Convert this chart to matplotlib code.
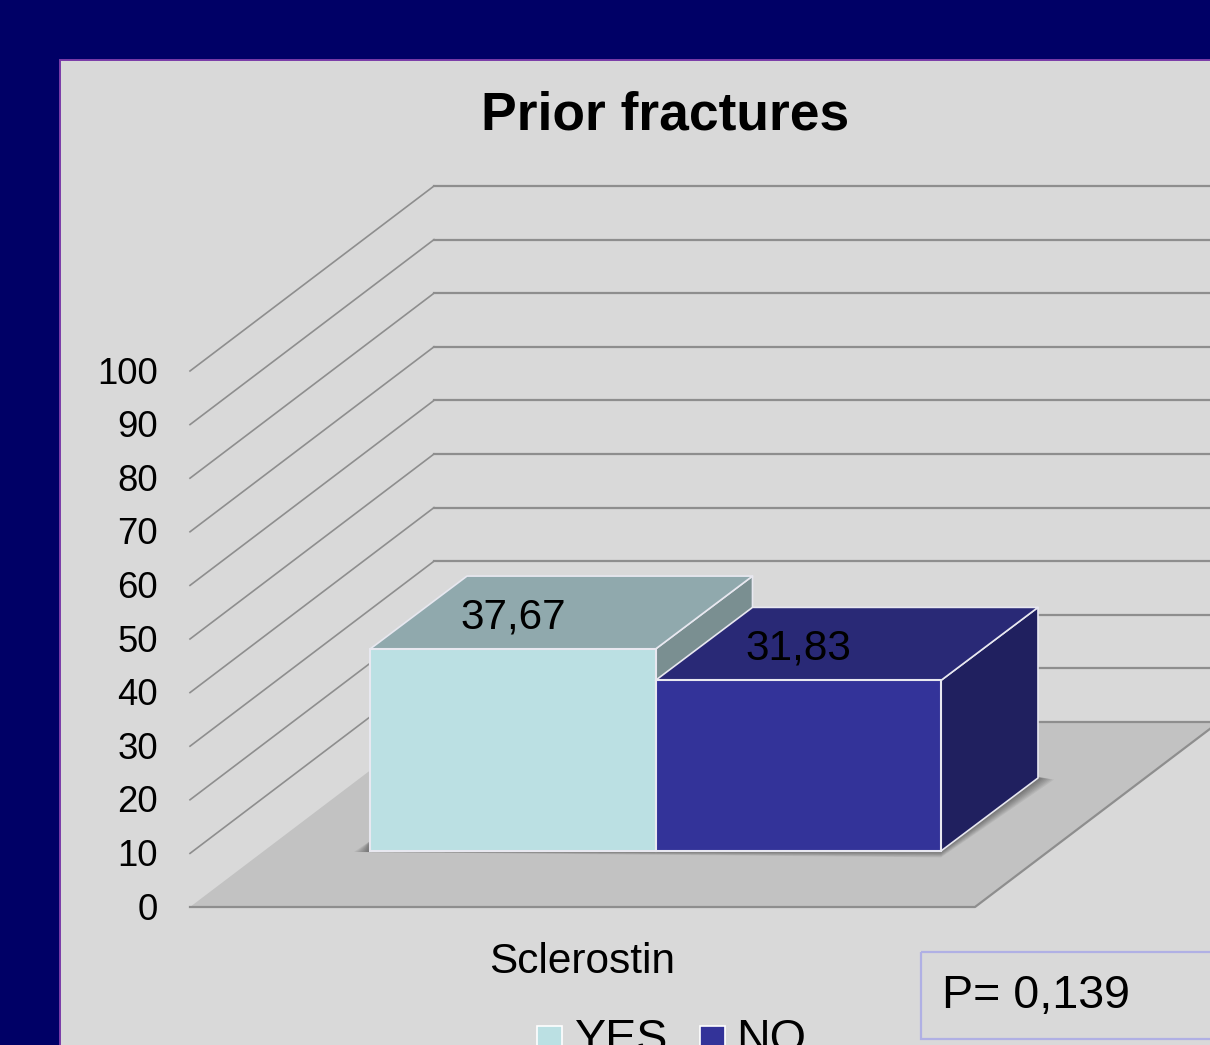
import matplotlib
matplotlib.use('Agg')
import matplotlib.pyplot as plt
from matplotlib.patches import Polygon, Rectangle

plt.rcParams['font.family'] = ['Liberation Sans', 'DejaVu Sans']

# data
title = 'Prior fractures'
category = 'Sclerostin'
series_names = ['YES', 'NO']
series_values = [37.67, 31.83]
value_labels = ['37,67', '31,83']
y_ticks = [0, 10, 20, 30, 40, 50, 60, 70, 80, 90, 100]
p_text = 'P= 0,139'

front_colors = ['#BBE0E3', '#333399']
top_colors = ['#90A9AD', '#292976']
side_colors = ['#7A8F91', '#20205F']

# pixel geometry of the fake 3d chart
y0 = 907
px_per_unit = 5.36
x_left = 190
x_right = 975
depth_x, depth_y = 244, -185
bar_left = 370
bar_width = 285.5
bar_base = 851
bar_dx, bar_dy = 97, -73
grid_c = '#8E8E8E'
edge_c = '#E8E8F0'

fig = plt.figure(figsize=(12.1, 10.45), dpi=100, facecolor='#000066')
ax = fig.add_axes([0, 0, 1, 1])
ax.set_xlim(0, 1210)
ax.set_ylim(1045, 0)
ax.axis('off')


def val_y(v):
    return y0 - v * px_per_unit


ax.add_patch(Rectangle((60, 60), 1200, 1100, fc='#D9D9D9', ec='#7A3BA8', lw=1.4, zorder=1))

# floor
floor = [(x_left, y0), (x_right, y0), (x_right + depth_x, y0 + depth_y), (x_left + depth_x, y0 + depth_y)]
ax.add_patch(Polygon(floor, fc='#C2C2C2', ec='none', zorder=2))
ax.plot([x_left, x_right, x_right + depth_x], [y0, y0, y0 + depth_y], c=grid_c, lw=1.6, zorder=3)

# walls
for v in y_ticks:
    y = val_y(v)
    if v > 0:
        ax.plot([x_left, x_left + depth_x], [y, y + depth_y], c=grid_c, lw=1.2, zorder=3)
    ax.plot([x_left + depth_x, 1260], [y + depth_y, y + depth_y], c=grid_c, lw=1.6, zorder=3)
    ax.text(158, y + 3, str(v), ha='right', va='center', fontsize=26.3, color='black', zorder=8)

# soft shadow under the bars
x_end = bar_left + bar_width * len(series_values)
for i in range(8):
    s = 2 + i * 2
    shadow = [(bar_left - s, bar_base + 1), (x_end, bar_base + s * 0.4),
              (x_end + bar_dx + s, bar_base + bar_dy + s * 0.1), (x_end + bar_dx - 20, bar_base + bar_dy - 5),
              (bar_left, bar_base - 10)]
    ax.add_patch(Polygon(shadow, fc='black', ec='none', alpha=0.06, zorder=4))

# bars
for i, v in enumerate(series_values):
    x1 = bar_left + i * bar_width
    x2 = x1 + bar_width
    top = bar_base - v * px_per_unit
    z = 5 + i * 0.5
    side = [(x2, bar_base), (x2 + bar_dx, bar_base + bar_dy), (x2 + bar_dx, top + bar_dy), (x2, top)]
    lid = [(x1, top), (x2, top), (x2 + bar_dx, top + bar_dy), (x1 + bar_dx, top + bar_dy)]
    ax.add_patch(Polygon(side, fc=side_colors[i], ec=edge_c, lw=1.2, joinstyle='round', zorder=z))
    ax.add_patch(Polygon(lid, fc=top_colors[i], ec=edge_c, lw=1.2, joinstyle='round', zorder=z))
    ax.add_patch(Rectangle((x1, top), bar_width, v * px_per_unit, fc=front_colors[i], ec=edge_c, lw=1.5, zorder=z))

for i, v in enumerate(series_values):
    cx = bar_left + i * bar_width + bar_width / 2
    ax.text(cx, bar_base - v * px_per_unit - 32, value_labels[i], ha='center', va='center',
            fontsize=30.5, color='black', zorder=8)

ax.text(582, 962, category, ha='center', va='center', fontsize=30.5, color='black', zorder=8)
ax.text(665, 116, title, ha='center', va='center', fontsize=38.4, fontweight='bold', color='black', zorder=8)

# p value box
ax.add_patch(Rectangle((921, 952), 400, 87, fc='none', ec='#B0B0E4', lw=1.6, zorder=7))
ax.text(942, 996, p_text, ha='left', va='center', fontsize=33.6, color='black', zorder=8)

# legend, cut by the bottom of the picture
swatch_x = [537, 700]
label_x = [575, 736]
for i, name in enumerate(series_names):
    ax.add_patch(Rectangle((swatch_x[i], 1026), 25, 30, fc=front_colors[i], ec='white', lw=1.2, zorder=7))
    ax.text(label_x[i], 1052, name, ha='left', va='baseline', fontsize=33.6, color='black', zorder=8)

fig.savefig('out.png', dpi=100, facecolor=fig.get_facecolor())
